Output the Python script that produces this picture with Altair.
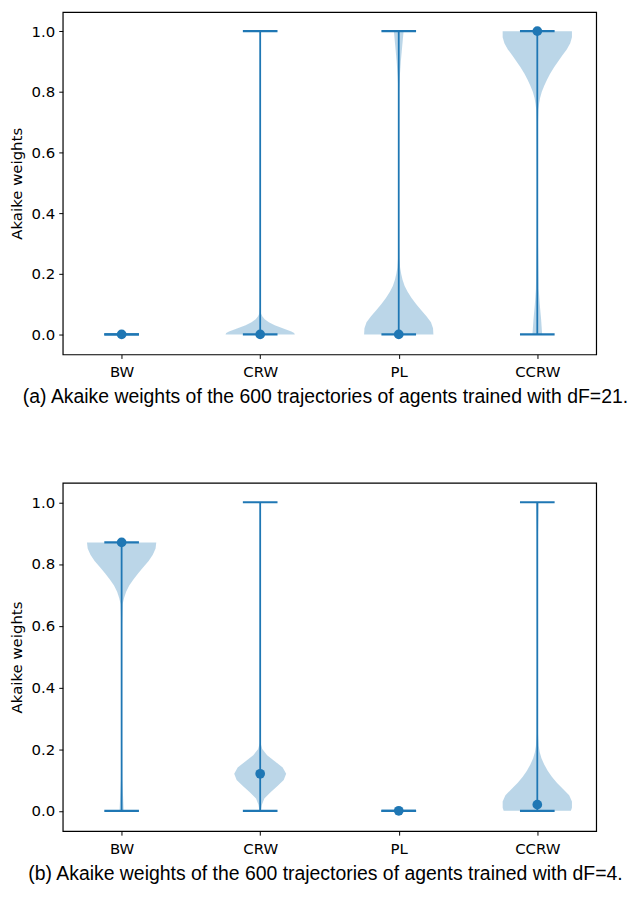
import altair as alt
import pandas as pd

categories = ["BW", "CRW", "PL", "CCRW"]
positions = [1, 2, 3, 4]

# ---- Panel (a): summary values (min, max, median) per category ----
a_min = [0.0, 0.0, 0.0, 0.0]
a_max = [0.0, 1.0, 1.0, 1.0]
a_med = [0.0, 0.0, 0.0, 1.0]

# ---- Panel (b) ----
b_min = [0.0, 0.0, 0.0, 0.0]
b_max = [0.87, 1.0, 0.0, 1.0]
b_med = [0.87, 0.12, 0.0, 0.02]

# Violin outlines: y value and relative half-width (1 = widest)
a_crw_y = [0.0, 0.005, 0.01, 0.02, 0.03, 0.04, 0.05, 0.06, 0.07, 0.09, 0.3, 1.0]
a_crw_w = [1.0, 0.98, 0.9, 0.65, 0.42, 0.25, 0.13, 0.06, 0.02, 0.005, 0.002, 0.0]
a_pl_y = [0.0, 0.02, 0.04, 0.06, 0.08, 0.10, 0.12, 0.14, 0.16, 0.18, 0.20, 0.22, 0.25, 0.3, 0.5, 0.8, 0.85, 0.9, 0.95, 1.0]
a_pl_w = [1.0, 0.99, 0.93, 0.8, 0.65, 0.5, 0.37, 0.26, 0.17, 0.11, 0.07, 0.04, 0.02, 0.01, 0.003, 0.01, 0.03, 0.06, 0.1, 0.14]
a_ccrw_y = [0.0, 0.05, 0.1, 0.15, 0.3, 0.5, 0.7, 0.74, 0.76, 0.78, 0.80, 0.82, 0.84, 0.86, 0.88, 0.90, 0.92, 0.94, 0.96, 0.98, 1.0]
a_ccrw_w = [0.14, 0.11, 0.07, 0.04, 0.02, 0.01, 0.02, 0.03, 0.05, 0.08, 0.13, 0.2, 0.28, 0.37, 0.48, 0.6, 0.72, 0.85, 0.95, 1.0, 1.0]

b_bw_y = [0.0, 0.05, 0.1, 0.3, 0.6, 0.67, 0.69, 0.71, 0.73, 0.75, 0.77, 0.79, 0.81, 0.83, 0.85, 0.87]
b_bw_w = [0.06, 0.04, 0.02, 0.005, 0.01, 0.03, 0.07, 0.13, 0.22, 0.34, 0.48, 0.63, 0.78, 0.9, 0.98, 1.0]
b_crw_y = [0.0, 0.02, 0.04, 0.06, 0.08, 0.10, 0.12, 0.14, 0.16, 0.18, 0.20, 0.22, 0.5, 1.0]
b_crw_w = [0.02, 0.05, 0.12, 0.3, 0.5, 0.68, 0.75, 0.65, 0.43, 0.2, 0.06, 0.01, 0.002, 0.0]
b_ccrw_y = [0.0, 0.01, 0.03, 0.05, 0.07, 0.09, 0.11, 0.13, 0.15, 0.17, 0.19, 0.21, 0.25, 0.5, 0.9, 0.95, 1.0]
b_ccrw_w = [0.97, 1.0, 1.0, 0.92, 0.75, 0.57, 0.42, 0.3, 0.2, 0.12, 0.07, 0.04, 0.02, 0.01, 0.02, 0.03, 0.04]

C0 = "#1f77b4"
XDOM = [0.575, 4.425]
YDOM = [-0.066, 1.063]
label_expr = "datum.value == 1 ? 'BW' : datum.value == 2 ? 'CRW' : datum.value == 3 ? 'PL' : datum.value == 4 ? 'CCRW' : ''"


def violin_frame(items):
    rows = []
    for cat, pos, ys, ws in items:
        for y, w in zip(ys, ws):
            rows.append({"cat": cat, "pos": pos, "y": y, "w": w})
    return pd.DataFrame(rows)


def summary_frame(mins, maxs, meds):
    return pd.DataFrame({"cat": categories, "pos": positions, "lo": mins, "hi": maxs, "med": meds})


def panel(vdf, sdf, caption, height):
    xs = alt.Scale(domain=XDOM, nice=False, zero=False)
    ys = alt.Scale(domain=YDOM, nice=False, zero=False)
    xaxis = alt.Axis(values=positions, labelExpr=label_expr, title=None, grid=False,
                     domain=False, tickColor="black", tickSize=4, labelPadding=6)
    yaxis = alt.Axis(values=[0, 0.2, 0.4, 0.6, 0.8, 1.0], format=".1f", title="Akaike weights",
                     grid=False, domain=False, tickColor="black", tickSize=4, labelPadding=4,
                     titlePadding=7)

    body = alt.Chart(vdf).transform_calculate(
        xl="datum.pos - 0.25*datum.w", xr="datum.pos + 0.25*datum.w"
    ).mark_area(orient="horizontal", color=C0, fillOpacity=0.3, strokeWidth=0).encode(
        x=alt.X("xl:Q", scale=xs, axis=xaxis, stack=None),
        x2="xr:Q",
        y=alt.Y("y:Q", scale=ys, axis=yaxis),
        detail="cat:N",
    )
    base = alt.Chart(sdf)
    stem = base.mark_rule(color=C0, strokeWidth=1.8).encode(
        x=alt.X("pos:Q", scale=xs), y=alt.Y("lo:Q", scale=ys), y2="hi:Q")
    capl = base.transform_calculate(a="datum.pos - 0.125", b="datum.pos + 0.125").mark_rule(
        color=C0, strokeWidth=2.2).encode(x=alt.X("a:Q", scale=xs), x2="b:Q", y=alt.Y("lo:Q", scale=ys))
    caph = base.transform_calculate(a="datum.pos - 0.125", b="datum.pos + 0.125").mark_rule(
        color=C0, strokeWidth=2.2).encode(x=alt.X("a:Q", scale=xs), x2="b:Q", y=alt.Y("hi:Q", scale=ys))
    med = base.mark_circle(color=C0, size=95, opacity=1).encode(
        x=alt.X("pos:Q", scale=xs), y=alt.Y("med:Q", scale=ys))

    return alt.layer(body, stem, capl, caph, med).properties(
        width=536, height=height,
        title=alt.TitleParams(caption, orient="bottom", anchor="middle", frame="group",
                              font="Liberation Sans", fontSize=19.5, fontWeight="normal",
                              color="black", offset=9, dx=-4),
    )


va = violin_frame([("CRW", 2, a_crw_y, a_crw_w), ("PL", 3, a_pl_y, a_pl_w), ("CCRW", 4, a_ccrw_y, a_ccrw_w)])
vb = violin_frame([("BW", 1, b_bw_y, b_bw_w), ("CRW", 2, b_crw_y, b_crw_w), ("CCRW", 4, b_ccrw_y, b_ccrw_w)])

pa = panel(va, summary_frame(a_min, a_max, a_med),
           "(a) Akaike weights of the 600 trajectories of agents trained with dF=21.", 344)
pb = panel(vb, summary_frame(b_min, b_max, b_med),
           "(b) Akaike weights of the 600 trajectories of agents trained with dF=4.", 350)

chart = alt.vconcat(pa, pb, spacing=74).properties(
    padding={"left": 0, "top": 1, "right": 5, "bottom": 0}
).configure_view(stroke="black", strokeWidth=1.2).configure_axis(
    labelFont="DejaVu Sans", labelFontSize=15, labelColor="black",
    titleFont="DejaVu Sans", titleFontSize=15, titleFontWeight="normal", titleColor="black",
)

chart.save("out.html", embed_options={"renderer": "svg", "actions": False})
